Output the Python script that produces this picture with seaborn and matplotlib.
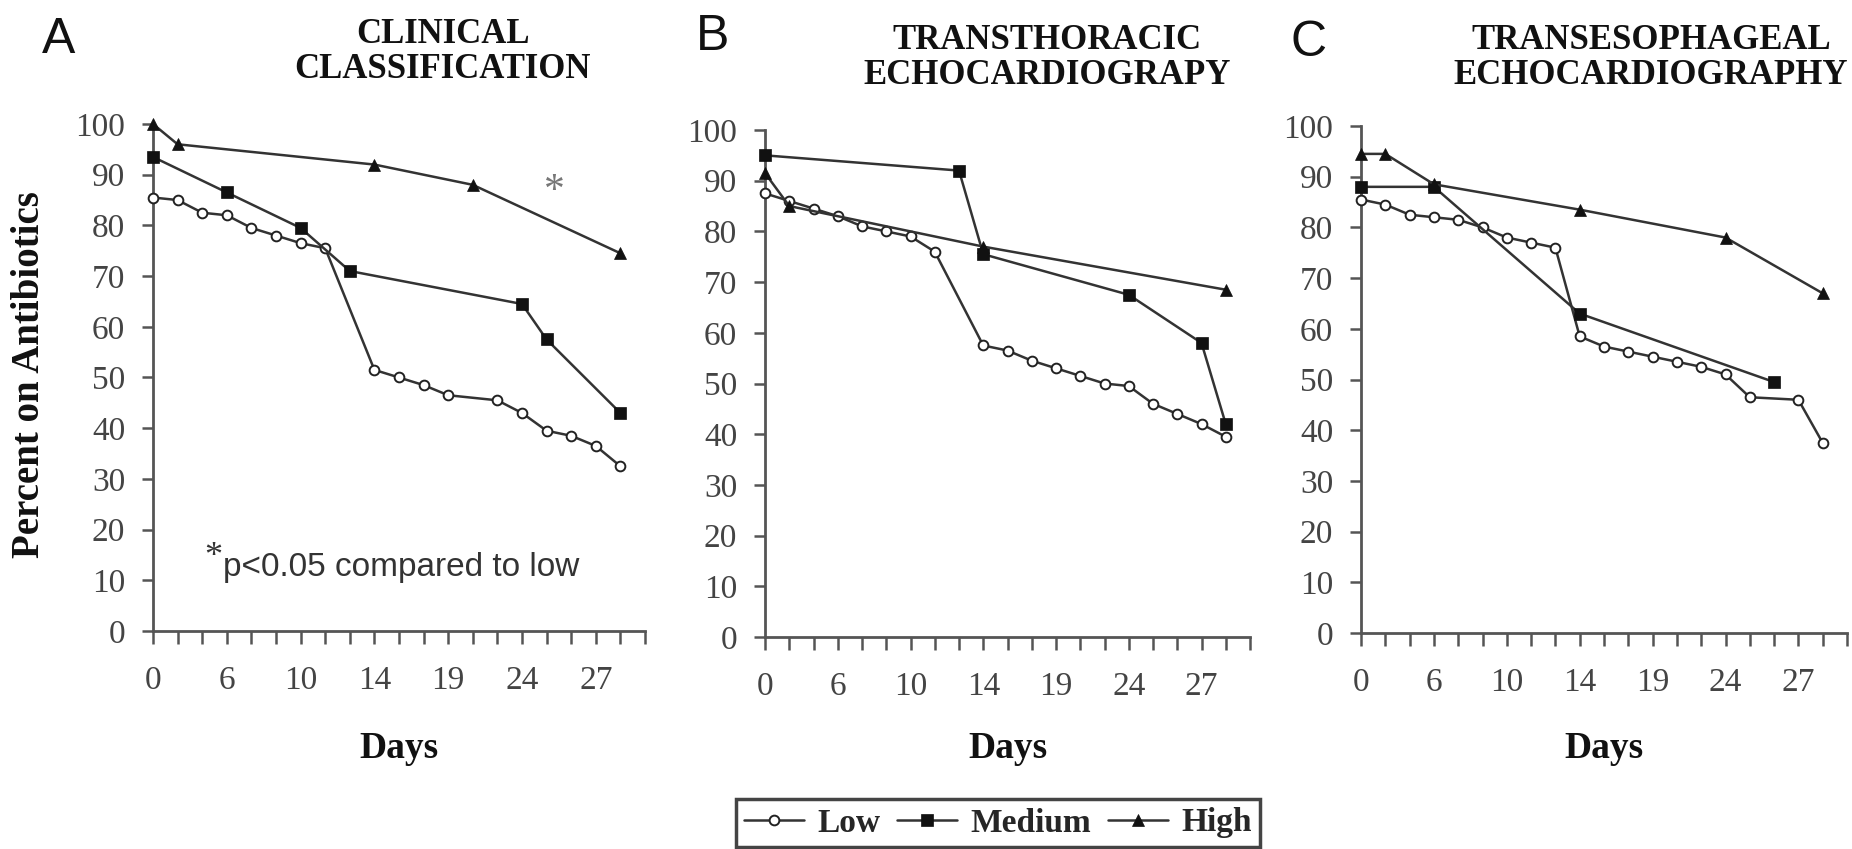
import matplotlib
matplotlib.use("Agg")
import matplotlib.pyplot as plt
import seaborn as sns
from matplotlib.ticker import FixedLocator

sns.set_theme(style="white")
plt.rcParams['font.family'] = ['Liberation Serif', 'DejaVu Serif']

# ---------------- data ----------------
tick_pos = [0, 3, 6, 9, 12, 15, 18]
tick_days = ["0", "6", "10", "14", "19", "24", "27"]
series_names = ["Low", "Medium", "High"]

# Panel A - clinical classification
a_low_x = [0, 1, 2, 3, 4, 5, 6, 7, 9, 10, 11, 12, 14, 15, 16, 17, 18, 19]
a_low_y = [85.5, 85, 82.5, 82, 79.5, 78, 76.5, 75.5, 51.5, 50, 48.5, 46.5, 45.5, 43, 39.5, 38.5, 36.5, 32.5]
a_med_x = [0, 3, 6, 8, 15, 16, 19]
a_med_y = [93.5, 86.5, 79.5, 71, 64.5, 57.5, 43]
a_high_x = [0, 1, 9, 13, 19]
a_high_y = [100, 96, 92, 88, 74.5]

# Panel B - transthoracic echocardiography
b_low_x = [0, 1, 2, 3, 4, 5, 6, 7, 9, 10, 11, 12, 13, 14, 15, 16, 17, 18, 19]
b_low_y = [87.5, 86, 84.5, 83, 81, 80, 79, 76, 57.5, 56.5, 54.5, 53, 51.5, 50, 49.5, 46, 44, 42, 39.5]
b_med_x = [0, 8, 9, 15, 18, 19]
b_med_y = [95, 92, 75.5, 67.5, 58, 42]
b_high_x = [0, 1, 9, 19]
b_high_y = [91.5, 85, 77, 68.5]

# Panel C - transesophageal echocardiography
c_low_x = [0, 1, 2, 3, 4, 5, 6, 7, 8, 9, 10, 11, 12, 13, 14, 15, 16, 18, 19]
c_low_y = [85.5, 84.5, 82.5, 82, 81.5, 80, 78, 77, 76, 58.5, 56.5, 55.5, 54.5, 53.5, 52.5, 51, 46.5, 46, 37.5]
c_med_x = [0, 3, 9, 17]
c_med_y = [88, 88, 63, 49.5]
c_high_x = [0, 1, 3, 9, 15, 19]
c_high_y = [94.5, 94.5, 88.5, 83.5, 78, 67]

panel_letters = ["A", "B", "C"]
panel_titles = ["CLINICAL\nCLASSIFICATION", "TRANSTHORACIC\nECHOCARDIOGRAPY",
                "TRANSESOPHAGEAL\nECHOCARDIOGRAPHY"]

# ---------------- figure ----------------
W, H = 1852, 849
fig = plt.figure(figsize=(W / 100, H / 100), dpi=100)
fig.patch.set_facecolor("white")

# pixel boxes: left, right, y(0), y(100)
boxes = [(153, 645, 631, 124), (765, 1250, 637, 130), (1361, 1847, 633, 126)]
letter_pos = [(59, 40), (713, 37), (1309, 43)]
title_pos = [(443, 52), (1047, 58), (1651, 58)]

LINE = "#333333"
SPINE = "#555555"
TICKC = "#444444"

styles = {
    "Low": dict(marker="o", markersize=7, markerfacecolor="white",
                markeredgecolor="#222222", markeredgewidth=1.4),
    "Medium": dict(marker="s", markersize=9, markerfacecolor="#111111",
                   markeredgecolor="#111111", markeredgewidth=0.5),
    "High": dict(marker="^", markersize=9, markerfacecolor="#111111",
                 markeredgecolor="#111111", markeredgewidth=0.5),
}

panel_data = [
    [(a_low_x, a_low_y), (a_med_x, a_med_y), (a_high_x, a_high_y)],
    [(b_low_x, b_low_y), (b_med_x, b_med_y), (b_high_x, b_high_y)],
    [(c_low_x, c_low_y), (c_med_x, c_med_y), (c_high_x, c_high_y)],
]

axes = []
for i, (l, r, y0, y100) in enumerate(boxes):
    ax = fig.add_axes([l / W, 1 - y0 / H, (r - l) / W, (y0 - y100) / H])
    axes.append(ax)
    for name, (xs, ys) in zip(series_names, panel_data[i]):
        sns.lineplot(x=xs, y=ys, ax=ax, color=LINE, linewidth=1.8,
                     errorbar=None, clip_on=False, zorder=3, **styles[name])
    ax.set_xlim(0, 20)
    ax.set_ylim(0, 100)
    ax.set_facecolor("white")
    for s in ["top", "right"]:
        ax.spines[s].set_visible(False)
    for s in ["left", "bottom"]:
        ax.spines[s].set_color(SPINE)
        ax.spines[s].set_linewidth(2.0)
    ax.set_yticks(range(0, 101, 10))
    ax.set_xticks(tick_pos)
    ax.set_xticklabels(tick_days)
    ax.xaxis.set_minor_locator(FixedLocator(list(range(0, 21))))
    ax.tick_params(axis="y", which="major", direction="out", length=8, width=1.8,
                   color=SPINE, pad=12, labelsize=24, labelcolor=TICKC, left=True)
    ax.tick_params(axis="x", which="both", direction="out", length=9, width=1.8,
                   color=SPINE, pad=16, labelsize=24, labelcolor=TICKC, bottom=True)
    ax.set_xlabel("Days", fontsize=27, fontweight="bold", color="#111111")
    ax.xaxis.set_label_coords(0.5, -(748 - y0) / (y0 - y100))
    ax.xaxis.label.set_va("center")
    ax.set_ylabel("")
    ax.grid(False)

    lx, ly = letter_pos[i]
    fig.text(lx / W, 1 - ly / H, panel_letters[i], ha="center", va="center",
             fontsize=36, family=["Liberation Sans", "DejaVu Sans"], color="#111111")
    tx, ty = title_pos[i]
    fig.text(tx / W, 1 - ty / H, panel_titles[i], ha="center", va="center",
             fontsize=25, fontweight="bold", linespacing=1.05, color="#111111")

axA = axes[0]
axA.set_ylabel("Percent on Antibiotics", fontsize=28, fontweight="bold", color="#111111")
axA.yaxis.set_label_coords(-0.25, 0.505)
axA.yaxis.label.set_va("center")

# significance annotations
axA.text(16.3, 86.6, "*", ha="center", va="center", fontsize=30, color="#777777")
axA.text(2.45, 14.5, "*", ha="center", va="center", fontsize=26, color="#333333")
axA.text(2.85, 12.6, "p<0.05 compared to low", ha="left", va="center", fontsize=24,
         family=["Liberation Sans", "DejaVu Sans"], color="#333333")

# legend from the panel A lines
handles = axA.lines[:3]
leg = fig.legend(handles, series_names, loc="center",
                 bbox_to_anchor=(998 / W, 1 - 823 / H), ncol=3, frameon=True,
                 fancybox=False, edgecolor="#444444", framealpha=1,
                 prop=dict(family="Liberation Serif", weight="bold", size=24),
                 handlelength=1.8, handletextpad=0.4, columnspacing=0.5,
                 borderpad=0.25, borderaxespad=0)
leg.get_frame().set_linewidth(2.5)

fig.savefig("out.png", dpi=100, facecolor="white")
